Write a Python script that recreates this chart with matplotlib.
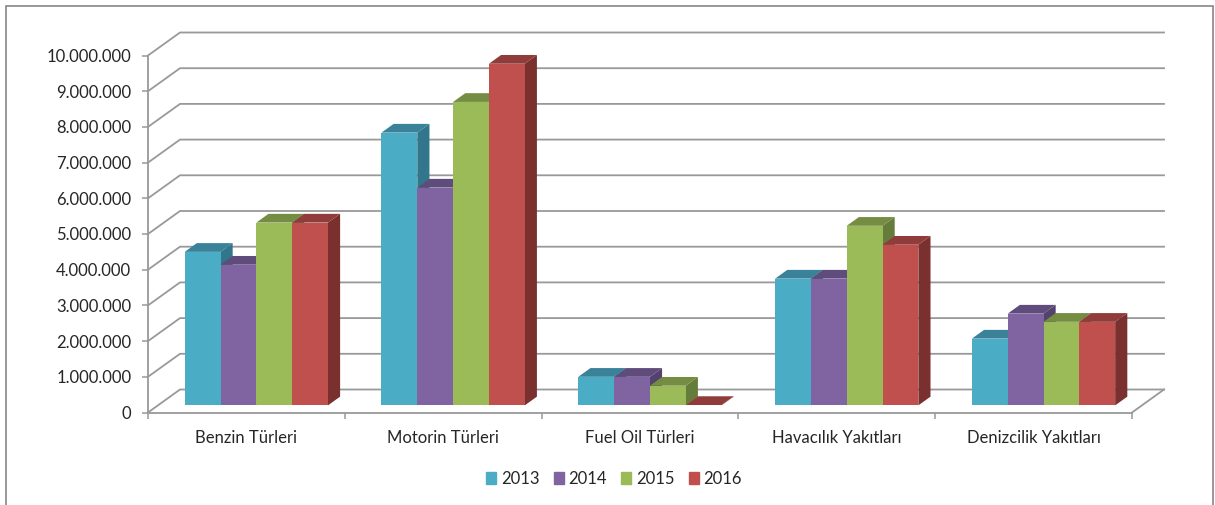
import matplotlib
matplotlib.use('Agg')
import matplotlib.pyplot as plt
from matplotlib.patches import Patch, Polygon, Rectangle
import numpy as np

categories = ['Benzin Türleri', 'Motorin Türleri', 'Fuel Oil Türleri', 'Havacılık Yakıtları', 'Denizcilik Yakıtları']
years = ['2013', '2014', '2015', '2016']
v2013 = [4300000, 7640000, 800000, 3550000, 1870000]
v2014 = [3940000, 6100000, 800000, 3550000, 2570000]
v2015 = [5120000, 8500000, 550000, 5030000, 2340000]
v2016 = [5120000, 9570000, 10000, 4500000, 2340000]
series = [v2013, v2014, v2015, v2016]

front_cols = ['#4BACC6', '#8064A2', '#9BBB59', '#C0504D']
top_cols = ['#3A8299', '#604C7C', '#748D43', '#903C3A']
side_cols = ['#31768B', '#54426E', '#667C3A', '#7A302E']
grid_col = '#999999'
text_col = '#262626'

W, H = 1215, 505
plt.rcParams['font.family'] = ['Lato', 'DejaVu Sans']

fig = plt.figure(figsize=(W / 100, H / 100), dpi=100)
# plot box is the front plane of the fake 3d chart
x0, x1, ytop, ybot = 148, 1132, 55.5, 412.5
ax = fig.add_axes([x0 / W, 1 - ybot / H, (x1 - x0) / W, (ybot - ytop) / H])
ax.set_xlim(0, len(categories))
ax.set_ylim(0, 10000000)
ax.patch.set_alpha(0)

# depth of the floor in data units
wall_dx = 32 / ((x1 - x0) / len(categories))
wall_dy = 23 * 10000000 / (ybot - ytop)


def pt(x, v, d):
    return (x + d * wall_dx, v + d * wall_dy)


yticks = np.arange(0, 10000001, 1000000)
for t in yticks:
    ax.plot([0, wall_dx, len(categories) + wall_dx], [t, t + wall_dy, t + wall_dy],
            color=grid_col, lw=1.3, clip_on=False, zorder=1, solid_joinstyle='miter')
ax.plot([len(categories), len(categories) + wall_dx], [0, wall_dy], color=grid_col, lw=1.3, clip_on=False, zorder=1)

bar_w = 0.182
d_front, d_back = 0.31, 0.69
z = 3
for i in range(len(categories)):
    for s, vals in enumerate(series):
        left = i + 0.5 + (s - 2) * bar_w
        right = left + bar_w
        v = vals[i]
        top = [pt(left, v, d_front), pt(right, v, d_front), pt(right, v, d_back), pt(left, v, d_back)]
        side = [pt(right, 0, d_front), pt(right, v, d_front), pt(right, v, d_back), pt(right, 0, d_back)]
        ax.add_patch(Polygon(side, closed=True, fc=side_cols[s], ec='none', clip_on=False, zorder=z))
        ax.add_patch(Polygon(top, closed=True, fc=top_cols[s], ec='none', clip_on=False, zorder=z))
        fl, bt = pt(left, 0, d_front)
        ax.bar(fl, v, width=bar_w, bottom=bt, align='edge', color=front_cols[s], clip_on=False, zorder=z)
        z += 1

ax.set_yticks(yticks)
ax.set_yticklabels([f'{int(t):,}'.replace(',', '.') for t in yticks], fontsize=12, color=text_col)
ax.set_xticks(np.arange(len(categories) + 1))
ax.set_xticklabels([])
ax.set_xticks(np.arange(len(categories)) + 0.5, minor=True)
ax.set_xticklabels(categories, minor=True, fontsize=12, color=text_col)
ax.tick_params(axis='x', which='major', length=4.5, width=1.1, color=grid_col)
ax.tick_params(axis='x', which='minor', length=0, pad=12.5)
ax.tick_params(axis='y', length=4.5, width=1.1, color=grid_col, pad=7.5)
for name in ['top', 'right']:
    ax.spines[name].set_visible(False)
for name in ['left', 'bottom']:
    ax.spines[name].set_color(grid_col)
    ax.spines[name].set_linewidth(1.3)
    ax.spines[name].set_zorder(2)

handles = [Patch(color=c) for c in front_cols]
fig.legend(handles, years, loc='center', bbox_to_anchor=(614 / W, 1 - 479 / H), ncol=4, frameon=False,
           fontsize=12, labelcolor=text_col, handlelength=0.6, handleheight=0.72, handletextpad=0.3,
           columnspacing=0.84, borderpad=0)

# outer frame, its bottom edge falls outside the image
fig.add_artist(Rectangle((6 / W, -0.02), (1213 - 6) / W, 1 - 6 / H + 0.02, transform=fig.transFigure,
                         fc='none', ec='#868686', lw=1.2))

fig.savefig('out.png', dpi=100)
